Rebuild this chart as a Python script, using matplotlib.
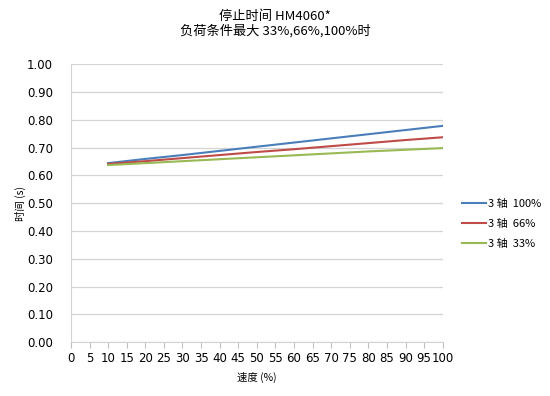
import matplotlib
matplotlib.use("Agg")
import matplotlib.pyplot as plt

plt.rcParams['font.family'] = ['DejaVu Sans', 'Noto Sans CJK SC']

speed = [10, 20, 30, 40, 50, 60, 70, 80, 90, 100]
axis3_100 = [0.644, 0.659, 0.673, 0.688, 0.703, 0.718, 0.733, 0.748, 0.763, 0.778]
axis3_66 = [0.641, 0.651, 0.662, 0.673, 0.684, 0.694, 0.705, 0.716, 0.727, 0.737]
axis3_33 = [0.637, 0.644, 0.651, 0.658, 0.665, 0.672, 0.679, 0.686, 0.692, 0.698]
series_labels = ['3 轴  100%', '3 轴  66%', '3 轴  33%']
xticks = list(range(0, 101, 5))
yticks = [i / 10 for i in range(11)]

fig = plt.figure(figsize=(5.5, 3.96), dpi=100)
ax = fig.add_axes([0.129, 0.136, 0.676, 0.702])

colors = ['#4A7EBB', '#BE4B48', '#98B954']
for vals, lab, c in zip([axis3_100, axis3_66, axis3_33], series_labels, colors):
    ax.plot(speed, vals, color=c, lw=1.5, label=lab)

ax.set_xlim(0, 100)
ax.set_ylim(0, 1.0)
ax.set_xticks(xticks)
ax.set_xticklabels([str(t) for t in xticks], fontsize=8.5)
ax.set_yticks(yticks)
ax.set_yticklabels([f"{t:.2f}" for t in yticks], fontsize=8.5)
ax.grid(axis='y', color='#D4D4D4', lw=0.9)
ax.set_axisbelow(True)
for s in ['top', 'right']:
    ax.spines[s].set_visible(False)
ax.spines['left'].set_color('#D4D4D4')
ax.spines['bottom'].set_color('#D4D4D4')
ax.tick_params(axis='y', length=0, pad=13)
ax.tick_params(axis='x', length=4, color='#BFBFBF', pad=3)

ax.set_xlabel('速度 (%)', fontsize=7.5, labelpad=5, family=['Noto Sans CJK SC'])
ax.set_ylabel('时间 (s)', fontsize=7.5, labelpad=1, family=['Noto Sans CJK SC'])

fig.text(0.5, 0.958, '停止时间 HM4060*', ha='center', va='center', fontsize=9.5,
         family=['Noto Sans CJK SC'])
fig.text(0.5, 0.921, '负荷条件最大 33%,66%,100%时', ha='center', va='center', fontsize=9.5,
         family=['Noto Sans CJK SC'])

leg = ax.legend(loc='center left', bbox_to_anchor=(1.025, 0.424), frameon=False,
                prop={'family': ['Noto Sans CJK SC'], 'size': 8},
                handlelength=2.2, handletextpad=0.1, labelspacing=0.9)

fig.savefig('out.png', dpi=100)
